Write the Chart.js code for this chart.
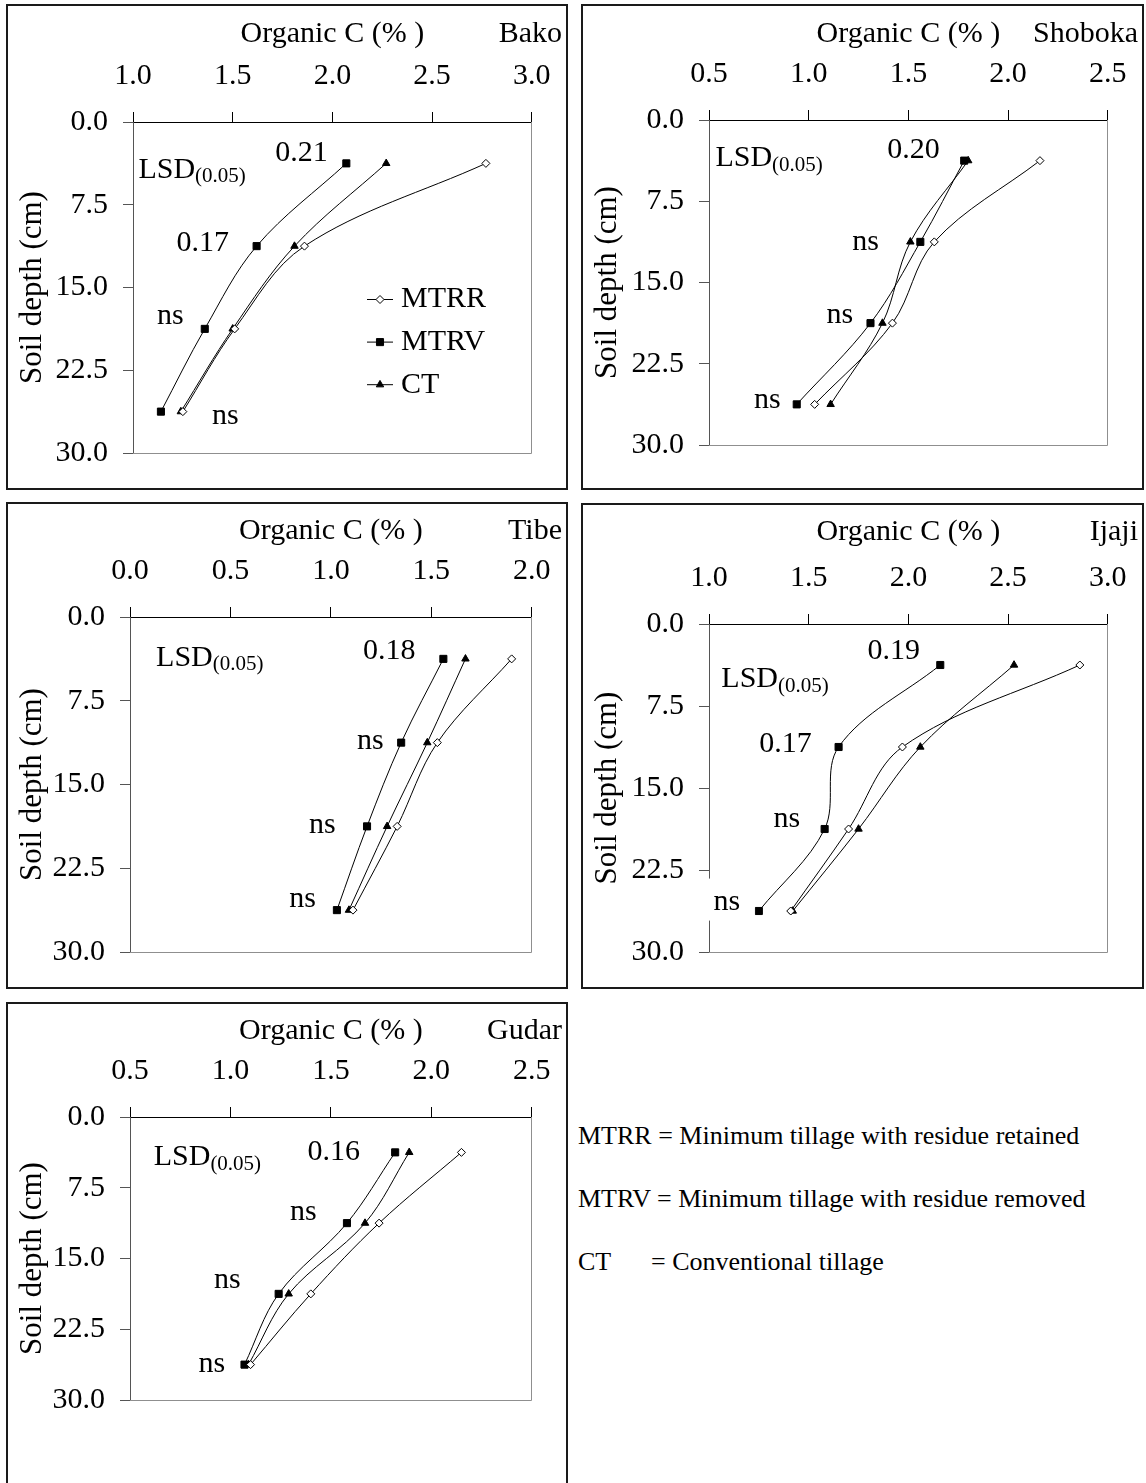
<!DOCTYPE html>
<html>
<head>
<meta charset="utf-8">
<title>Organic C by soil depth</title>
<script src="https://cdn.jsdelivr.net/npm/chart.js@4.4.1/dist/chart.umd.min.js"></script>
<style>
  html, body { margin: 0; padding: 0; background: #fff; }
  body { position: relative; width: 1146px; height: 1483px; overflow: hidden;
         font-family: "Liberation Serif", "Times New Roman", serif; color: #000; }
  .frame { position: absolute; box-sizing: border-box; border: 2px solid #1a1a1a; }
  .panel { position: absolute; }
  .key { position: absolute; font-size: 26px; line-height: 26px; white-space: pre; }
</style>
</head>
<body>
<div id="root"></div>
<div class="key" style="left:578px; top:1123px;">MTRR = Minimum tillage with residue retained</div>
<div class="key" style="left:578px; top:1186px;">MTRV = Minimum tillage with residue removed</div>
<div class="key" style="left:578px; top:1249px;">CT</div>
<div class="key" style="left:651px; top:1249px;">= Conventional tillage</div>
<script>
// Sampling depths (cm): mid-points of 0-7.5, 7.5-15, 15-22.5, 22.5-30
const depths = [3.75, 11.25, 18.75, 26.25];
const treatments = ['MTRR', 'MTRV', 'CT'];
const depthRange = [0, 30];
const depthStep = 7.5;
const carbonStep = 0.5;

// Bako
const bakoRange = [1.0, 3.0];
const bakoMTRR = [2.77, 1.86, 1.51, 1.25];
const bakoMTRV = [2.07, 1.62, 1.36, 1.14];
const bakoCT   = [2.27, 1.81, 1.50, 1.24];
const bakoLSD  = ['0.21', '0.17', 'ns', 'ns'];

// Shoboka
const shobokaRange = [0.5, 2.5];
const shobokaMTRR = [2.16, 1.63, 1.42, 1.03];
const shobokaMTRV = [1.78, 1.56, 1.31, 0.94];
const shobokaCT   = [1.80, 1.51, 1.37, 1.11];
const shobokaLSD  = ['0.20', 'ns', 'ns', 'ns'];

// Tibe
const tibeRange = [0.0, 2.0];
const tibeMTRR = [1.90, 1.53, 1.33, 1.11];
const tibeMTRV = [1.56, 1.35, 1.18, 1.03];
const tibeCT   = [1.67, 1.48, 1.28, 1.09];
const tibeLSD  = ['0.18', 'ns', 'ns', 'ns'];

// Ijaji
const ijajiRange = [1.0, 3.0];
const ijajiMTRR = [2.86, 1.97, 1.70, 1.41];
const ijajiMTRV = [2.16, 1.65, 1.58, 1.25];
const ijajiCT   = [2.53, 2.06, 1.75, 1.42];
const ijajiLSD  = ['0.19', '0.17', 'ns', 'ns'];

// Gudar
const gudarRange = [0.5, 2.5];
const gudarMTRR = [2.15, 1.74, 1.40, 1.10];
const gudarMTRV = [1.82, 1.58, 1.24, 1.07];
const gudarCT   = [1.89, 1.67, 1.29, 1.09];
const gudarLSD  = ['0.16', 'ns', 'ns', 'ns'];

// Where each LSD note sits, in axis units: [organic C, depth of baseline]
const bakoNoteAt    = [[1.845, 3.49], [1.35, 11.72], [1.187, 18.27], [1.463, 27.35]];
const shobokaNoteAt = [[1.526, 3.47], [1.285, 12.0], [1.156, 18.74], [0.793, 26.6]];
const tibeNoteAt    = [[1.29, 3.79], [1.197, 11.78], [0.958, 19.36], [0.859, 26.0]];
const ijajiNoteAt   = [[1.927, 3.23], [1.384, 11.69], [1.391, 18.61], [1.089, 26.12]];
const gudarNoteAt   = [[1.514, 4.59], [1.363, 10.94], [0.984, 18.18], [0.908, 27.0]];

const FAMILY = '"Liberation Serif", "Times New Roman", serif';
const axisFont = { family: FAMILY, size: 30, lineHeight: 1.2 };
const depthTitleFont = { family: FAMILY, size: 31, lineHeight: 1.2 };

const markerStyles = [
  { pointStyle: 'rectRot',  pointRadius: 4,   pointBackgroundColor: '#ffffff' },
  { pointStyle: 'rect',     pointRadius: 5,   pointBackgroundColor: '#000000' },
  { pointStyle: 'triangle', pointRadius: 4.3, pointBackgroundColor: '#000000' }
];

const panels = [
  { id: 'bako', name: 'Bako', frame: [6, 4, 568, 490], area: [133, 122, 543, 453], titleY: 34.2,
    range: bakoRange, series: [bakoMTRR, bakoMTRV, bakoCT], lsd: bakoLSD, noteAt: bakoNoteAt,
    headAt: [1.027, 5.05], legend: { x: 234, y: 177.5, gap: 42.6 } },
  { id: 'shoboka', name: 'Shoboka', frame: [581, 4, 1144, 490], area: [709, 120, 1113, 445], titleY: 34,
    range: shobokaRange, series: [shobokaMTRR, shobokaMTRV, shobokaCT], lsd: shobokaLSD, noteAt: shobokaNoteAt,
    headAt: [0.532, 4.29] },
  { id: 'tibe', name: 'Tibe', frame: [6, 502, 568, 989], area: [130, 617, 543, 952], titleY: 531,
    range: tibeRange, series: [tibeMTRR, tibeMTRV, tibeCT], lsd: tibeLSD, noteAt: tibeNoteAt,
    headAt: [0.13, 4.38] },
  { id: 'ijaji', name: 'Ijaji', frame: [581, 503, 1144, 989], area: [709, 624, 1119, 952], titleY: 532.5,
    range: ijajiRange, series: [ijajiMTRR, ijajiMTRV, ijajiCT], lsd: ijajiLSD, noteAt: ijajiNoteAt,
    headAt: [1.062, 5.80], boxedNote: 3 },
  { id: 'gudar', name: 'Gudar', frame: [6, 1002, 568, 1500], area: [130, 1117, 543, 1400], titleY: 1031,
    range: gudarRange, series: [gudarMTRR, gudarMTRV, gudarCT], lsd: gudarLSD, noteAt: gudarNoteAt,
    headAt: [0.618, 5.12] }
];

function buildPanel(p) {
  const root = document.getElementById('root');
  const [fl, ft, fr, fb] = p.frame;
  const [al, at, ar, ab] = p.area;
  const W = fr - fl, H = fb - ft;

  const box = document.createElement('div');
  box.className = 'frame';
  Object.assign(box.style, { left: fl + 'px', top: ft + 'px', width: W + 'px', height: H + 'px' });
  root.appendChild(box);

  const cv = document.createElement('canvas');
  cv.className = 'panel';
  cv.width = W; cv.height = H;
  Object.assign(cv.style, { left: fl + 'px', top: ft + 'px', width: W + 'px', height: H + 'px' });
  root.appendChild(cv);

  const decor = {
    id: 'decor_' + p.id,
    beforeDatasetsDraw(chart) {
      const { ctx, chartArea: a } = chart;
      ctx.save();
      ctx.strokeStyle = '#8f8f8f';
      ctx.lineWidth = 1;
      const rx = Math.floor(a.right) + 0.5, by = Math.floor(a.bottom) + 0.5;
      ctx.beginPath();
      ctx.moveTo(a.left, by); ctx.lineTo(rx, by); ctx.lineTo(rx, a.top);
      ctx.stroke();
      ctx.restore();
    },
    afterDatasetsDraw(chart) {
      const { ctx, chartArea: a } = chart;
      const xs = chart.scales.x, ys = chart.scales.y;
      ctx.save();
      ctx.fillStyle = '#000';

      // panel (site) name, on the axis-title line
      ctx.font = '30px ' + FAMILY;
      ctx.textAlign = 'right';
      ctx.textBaseline = 'middle';
      ctx.fillText(p.name, chart.width - 6, p.titleY - ft);

      // LSD(0.05) heading
      const hx = xs.getPixelForValue(p.headAt[0]);
      const hy = ys.getPixelForValue(p.headAt[1]);
      ctx.textAlign = 'left';
      ctx.textBaseline = 'alphabetic';
      ctx.font = '30px ' + FAMILY;
      ctx.fillText('LSD', hx, hy);
      const w = ctx.measureText('LSD').width;
      ctx.font = '21px ' + FAMILY;
      ctx.fillText('(0.05)', hx + w, hy + 4.5);

      // LSD values beside each depth
      ctx.font = '30px ' + FAMILY;
      ctx.textAlign = 'center';
      p.lsd.forEach((t, i) => {
        const px = xs.getPixelForValue(p.noteAt[i][0]);
        const py = ys.getPixelForValue(p.noteAt[i][1]);
        if (p.boxedNote === i) {
          ctx.fillStyle = '#fff';
          ctx.fillRect(px - 28, py - 31, 56, 42);
          ctx.fillStyle = '#000';
        }
        ctx.fillText(t, px, py);
      });

      // series key inside the plot
      if (p.legend) {
        const L = p.legend;
        treatments.forEach((t, i) => {
          const y = a.top + L.y + i * L.gap;
          const x0 = a.left + L.x;
          ctx.strokeStyle = '#000';
          ctx.lineWidth = 1;
          ctx.beginPath();
          ctx.moveTo(x0, y); ctx.lineTo(x0 + 26, y);
          ctx.stroke();
          ctx.fillStyle = markerStyles[i].pointBackgroundColor;
          Chart.helpers.drawPoint(ctx, {
            pointStyle: markerStyles[i].pointStyle,
            radius: markerStyles[i].pointRadius,
            rotation: 0, borderWidth: 1
          }, x0 + 13, y);
          ctx.fillStyle = '#000';
          ctx.font = '30px ' + FAMILY;
          ctx.textAlign = 'left';
          ctx.textBaseline = 'middle';
          ctx.fillText(t, x0 + 34, y);
        });
      }
      ctx.restore();
    }
  };

  const datasets = p.series.map((vals, i) => Object.assign({
    label: treatments[i],
    data: vals.map((v, k) => ({ x: v, y: depths[k] })),
    showLine: true,
    borderColor: '#000',
    borderWidth: 1,
    tension: 0.35,
    pointBorderColor: '#000',
    pointBorderWidth: 1
  }, markerStyles[i]));

  new Chart(cv, {
    type: 'scatter',
    data: { datasets },
    plugins: [decor],
    options: {
      responsive: false,
      animation: false,
      devicePixelRatio: 1,
      layout: { padding: { left: 0, top: 0, right: fr - ar, bottom: fb - ab } },
      plugins: { legend: { display: false }, tooltip: { enabled: false } },
      scales: {
        x: {
          type: 'linear', position: 'top', min: p.range[0], max: p.range[1],
          afterFit(s) { s.height = at - ft; },
          ticks: { stepSize: carbonStep, autoSkip: false, maxRotation: 0, padding: 17.5,
                   color: '#000', font: axisFont, callback: v => Number(v).toFixed(1) },
          grid: { drawOnChartArea: false, drawTicks: true, tickLength: 10, tickColor: '#000', tickWidth: 1 },
          border: { display: true, color: '#000', width: 1 },
          title: { display: true, text: 'Organic C (% )', color: '#000', font: axisFont,
                   padding: { top: p.titleY - ft - 18, bottom: 0 } }
        },
        y: {
          type: 'linear', position: 'left', reverse: true, min: depthRange[0], max: depthRange[1],
          afterFit(s) { s.width = al - fl; },
          ticks: { stepSize: depthStep, autoSkip: false, padding: 15,
                   color: '#000', font: axisFont, callback: v => Number(v).toFixed(1) },
          grid: { drawOnChartArea: false, drawTicks: true, tickLength: 10, tickColor: '#555', tickWidth: 1 },
          border: { display: true, color: '#555', width: 1 },
          title: { display: true, text: 'Soil depth (cm)', color: '#000', font: depthTitleFont,
                   padding: { top: 8.5, bottom: 0 } }
        }
      }
    }
  });
}

panels.forEach(buildPanel);
</script>
</body>
</html>
